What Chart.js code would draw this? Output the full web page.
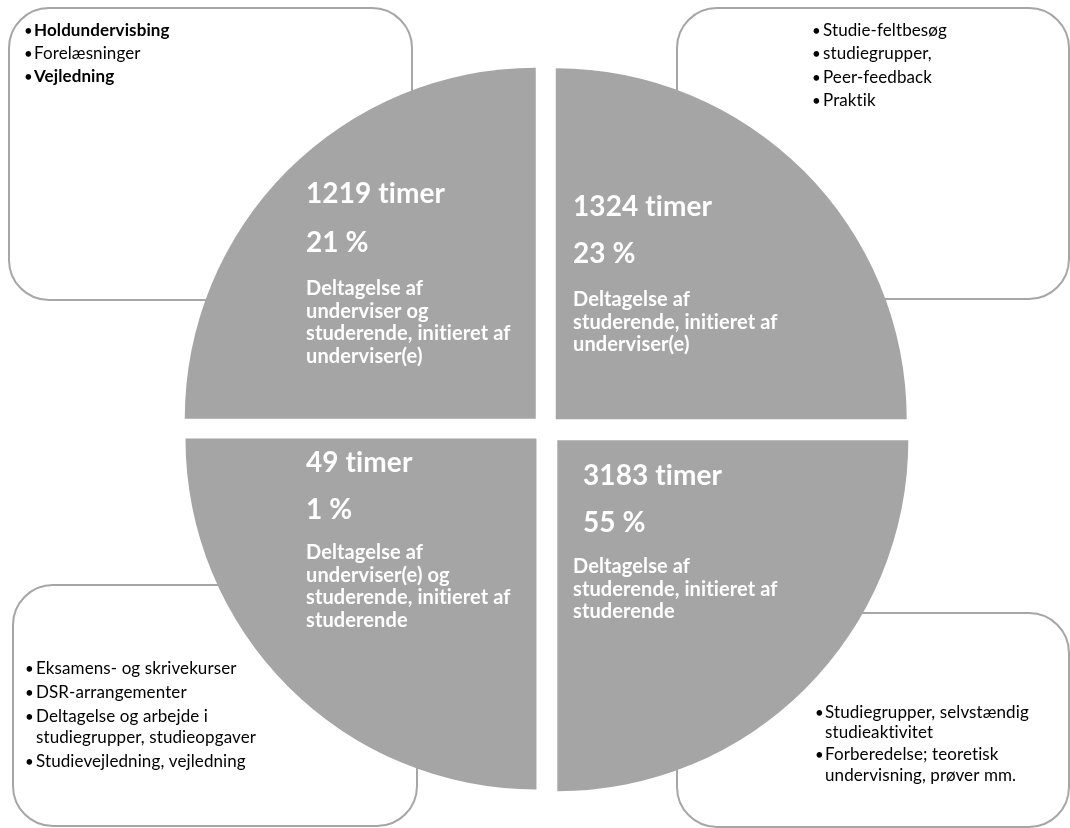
<!DOCTYPE html>
<html>
<head>
<meta charset="utf-8">
<script src="https://cdn.jsdelivr.net/npm/chart.js@4"></script>
<style>
  html, body { margin: 0; padding: 0; background: #fff; }
  canvas { display: block; }
</style>
</head>
<body>
<canvas id="mychart" width="1070" height="828"></canvas>
<script>
// quadrant order follows the pie: top-right, bottom-right, bottom-left, top-left
const quadrants = ['Øverst til højre', 'Nederst til højre', 'Nederst til venstre', 'Øverst til venstre'];
const segments = [1, 1, 1, 1];
const hours = [1324, 3183, 49, 1219];
const percents = [23, 55, 1, 21];
const descriptions = [
    ['Deltagelse af', 'studerende, initieret af', 'underviser(e)'],
    ['Deltagelse af', 'studerende, initieret af', 'studerende'],
    ['Deltagelse af', 'underviser(e) og', 'studerende, initieret af', 'studerende'],
    ['Deltagelse af', 'underviser og', 'studerende, initieret af', 'underviser(e)']
];
const activities = [
    ['Studie-feltbesøg', 'studiegrupper,', 'Peer-feedback', 'Praktik'],
    ['Studiegrupper, selvstændig\nstudieaktivitet', 'Forberedelse; teoretisk\nundervisning, prøver mm.'],
    ['Eksamens- og skrivekurser', 'DSR-arrangementer', 'Deltagelse og arbejde i\nstudiegrupper, studieopgaver', 'Studievejledning, vejledning'],
    ['Holdundervisbing', 'Forelæsninger', 'Vejledning']
];
const boldActivities = ['Holdundervisbing', 'Vejledning'];

// layout only
const FONT = 'Lato, "Open Sans", sans-serif';
const boxes = [
    { x: 677, y: 8, w: 392, h: 291, bx: 812, tx: 823, lines: [36, 59, 83, 106] },
    { x: 677, y: 613, w: 392, h: 214, bx: 815, tx: 825, lines: [718, 738, 760, 781] },
    { x: 13, y: 585, w: 404, h: 241, bx: 25, tx: 36, lines: [674, 698, 722, 743, 767] },
    { x: 9, y: 8, w: 403, h: 292, bx: 24, tx: 34, lines: [36, 59, 82] }
];
const labelPos = [
    { x: 573, dx: 573, title: 216, pct: 263, desc: 306 },
    { x: 583, dx: 573, title: 485, pct: 532, desc: 573 },
    { x: 306, dx: 306, title: 472, pct: 519, desc: 559 },
    { x: 306, dx: 306, title: 203, pct: 252, desc: 295 }
];

function roundRect(c, x, y, w, h, r) {
    c.beginPath();
    c.moveTo(x + r, y);
    c.lineTo(x + w - r, y);
    c.arcTo(x + w, y, x + w, y + r, r);
    c.lineTo(x + w, y + h - r);
    c.arcTo(x + w, y + h, x + w - r, y + h, r);
    c.lineTo(x + r, y + h);
    c.arcTo(x, y + h, x, y + h - r, r);
    c.lineTo(x, y + r);
    c.arcTo(x, y, x + r, y, r);
    c.closePath();
}

const boxPlugin = {
    id: 'boxes',
    beforeDatasetsDraw(chart) {
        const c = chart.ctx;
        c.save();
        c.letterSpacing = '0.1px'; // no "ti" ligature
        boxes.forEach((b, i) => {
            roundRect(c, b.x, b.y, b.w, b.h, 40);
            c.fillStyle = '#fff';
            c.fill();
            c.strokeStyle = '#a6a6a6';
            c.lineWidth = 2;
            c.stroke();

            c.fillStyle = '#000';
            c.textBaseline = 'alphabetic';
            let k = 0;
            activities[i].forEach(item => {
                const bold = boldActivities.includes(item);
                c.font = '15px ' + FONT;
                c.fillText('•', b.bx, b.lines[k]);
                c.font = (bold ? 'bold ' : '') + '17px ' + FONT;
                item.split('\n').forEach(part => {
                    c.fillText(part, b.tx, b.lines[k]);
                    k++;
                });
            });
        });
        c.restore();
    },
    afterDatasetsDraw(chart) {
        const c = chart.ctx;
        c.save();
        c.letterSpacing = '0.1px';
        c.fillStyle = '#fff';
        c.textBaseline = 'alphabetic';
        labelPos.forEach((p, i) => {
            c.font = 'bold 28px ' + FONT;
            c.fillText(hours[i] + ' timer', p.x, p.title);
            c.fillText(percents[i] + ' %', p.x, p.pct);
            c.font = 'bold 20px ' + FONT;
            descriptions[i].forEach((line, j) => {
                c.fillText(line, p.dx, p.desc + j * 22.7);
            });
        });
        c.restore();
    }
};

const ctx = document.getElementById('mychart');

new Chart(ctx, {
    type: 'pie',
    data: {
        labels: quadrants,
        datasets: [{
            data: segments,
            backgroundColor: '#a5a5a5',
            borderWidth: 0,
            offset: [55, 64, 54, 58],
            hoverOffset: 0,
            radius: 351
        }]
    },
    options: {
        responsive: false,
        animation: false,
        events: [],
        layout: {
            padding: { left: 22, right: 0, top: 30, bottom: 0 }
        },
        plugins: {
            legend: { display: false },
            tooltip: { enabled: false }
        }
    },
    plugins: [boxPlugin]
});
</script>
</body>
</html>
